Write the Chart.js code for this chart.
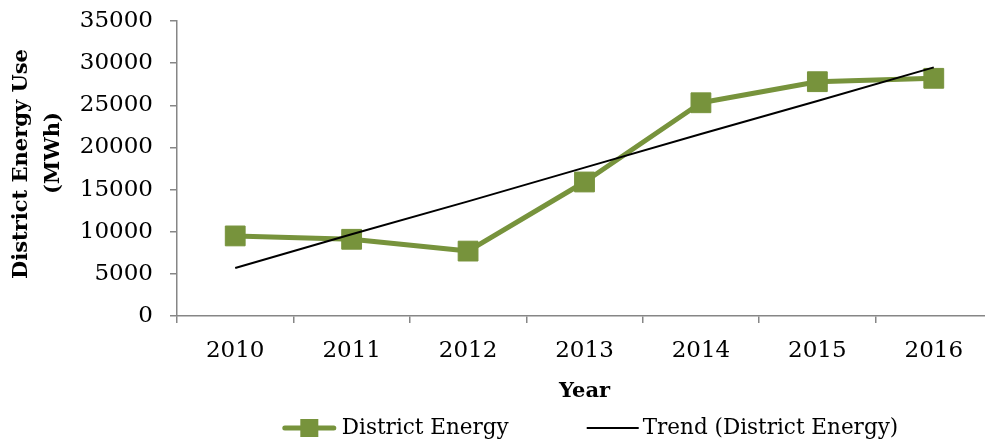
<!DOCTYPE html>
<html>
<head>
<meta charset="utf-8">
<script src="https://cdn.jsdelivr.net/npm/chart.js@4.4.1/dist/chart.umd.min.js"></script>
<style>
  html, body { margin: 0; padding: 0; background: #fff; overflow: hidden; width: 985px; height: 440px; }
  #wrap { position: absolute; left: 0; top: 0; width: 1180px; height: 450px; }
</style>
</head>
<body>
<div id="wrap"><canvas id="grafico" width="1180" height="450"></canvas></div>
<script>
// datos
const years = ['2010', '2011', '2012', '2013', '2014', '2015', '2016']
const districtEnergy = [9500, 9100, 7700, 15900, 25300, 27800, 28200]
const trendValues = [5700, 9700, 13600, 17600, 21600, 25500, 29500]
const yTicks = [0, 5000, 10000, 15000, 20000, 25000, 30000, 35000]
const yTitle = ['District Energy Use', '(MWh)']
const xTitle = 'Year'
const serieNames = ['District Energy', 'Trend (District Energy)']

const verde = '#77933C'
const gris = '#868686'

Chart.defaults.font.family = '"DejaVu Serif"'
Chart.defaults.color = '#000'

// titulo del eje Y y leyenda dibujados a mano
const extras = {
  id: 'extras',
  afterDraw(chart) {
    const ctx = chart.ctx
    ctx.save()
    ctx.fillStyle = '#000'
    ctx.font = 'bold 21px "DejaVu Serif"'
    ctx.textAlign = 'center'
    ctx.textBaseline = 'middle'
    const pos = [[22, 164], [54, 153]]
    pos.forEach(([x, y], i) => {
      ctx.save()
      ctx.translate(x, y)
      ctx.rotate(-Math.PI / 2)
      ctx.fillText(yTitle[i], 0, 0)
      ctx.restore()
    })

    // leyenda
    ctx.font = '21.5px "DejaVu Serif"'
    ctx.textAlign = 'left'
    const w1 = ctx.measureText(serieNames[0]).width
    const w2 = ctx.measureText(serieNames[1]).width
    const total = 55 + 5 + w1 + 78 + 52 + 4 + w2
    let x = 590 - total / 2
    const y = 428
    ctx.strokeStyle = verde
    ctx.lineWidth = 5
    ctx.lineCap = 'round'
    ctx.beginPath()
    ctx.moveTo(x + 3, y)
    ctx.lineTo(x + 52, y)
    ctx.stroke()
    ctx.fillStyle = verde
    ctx.fillRect(x + 27.5 - 9, y - 9, 18, 18)
    x += 60
    ctx.fillStyle = '#000'
    ctx.fillText(serieNames[0], x, y)
    x += w1 + 78
    ctx.strokeStyle = '#000'
    ctx.lineWidth = 2
    ctx.lineCap = 'butt'
    ctx.beginPath()
    ctx.moveTo(x, y)
    ctx.lineTo(x + 52, y)
    ctx.stroke()
    x += 56
    ctx.fillText(serieNames[1], x, y)
    ctx.restore()
  }
}

const myChart = new Chart(document.querySelector('#grafico'), {
  type: 'line',
  data: {
    labels: years,
    datasets: [
      {
        label: serieNames[0],
        data: districtEnergy,
        borderColor: verde,
        backgroundColor: verde,
        borderWidth: 5,
        borderJoinStyle: 'round',
        borderCapStyle: 'round',
        pointStyle: 'rect',
        pointRadius: 14,
        pointBorderWidth: 1,
        pointBackgroundColor: verde,
        pointBorderColor: verde,
        order: 1
      },
      {
        label: serieNames[1],
        data: trendValues,
        borderColor: '#000',
        borderWidth: 2,
        pointRadius: 0,
        order: 0
      }
    ]
  },
  options: {
    responsive: false,
    animation: false,
    layout: { padding: { top: 21, right: 188, bottom: 0, left: 0 } },
    plugins: {
      legend: { display: false },
      tooltip: { enabled: false }
    },
    scales: {
      x: {
        offset: true,
        grid: { display: true, offset: true, drawOnChartArea: false, drawTicks: true, tickLength: 7, color: gris, lineWidth: 1.5 },
        border: { color: gris, width: 1.5 },
        ticks: { color: '#000', font: { size: 23 }, padding: 14, maxRotation: 0 },
        title: { display: true, text: xTitle, color: '#000', font: { size: 21, weight: 'bold' }, padding: { top: 0, bottom: 46 } },
        afterFit: s => { s.height = 134; s.paddingLeft = 0; s.paddingRight = 0 }
      },
      y: {
        min: 0,
        max: 35000,
        grid: { display: true, drawOnChartArea: false, drawTicks: true, tickLength: 7, color: gris, lineWidth: 1.5 },
        border: { color: gris, width: 1.5 },
        ticks: { color: '#000', font: { size: 23 }, padding: 17, callback: v => String(v) },
        afterBuildTicks: axis => { axis.ticks = yTicks.map(v => ({ value: v })) },
        afterFit: s => { s.width = 177; s.paddingTop = 0; s.paddingBottom = 0 }
      }
    }
  },
  plugins: [extras]
})
</script>
</body>
</html>
